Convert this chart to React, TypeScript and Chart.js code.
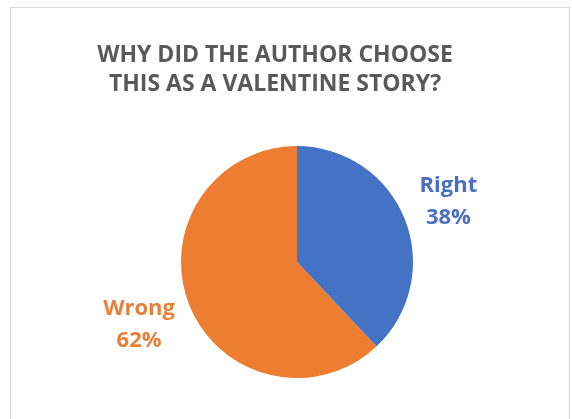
import React, { useEffect, useRef } from "react";
import { Chart, registerables } from "chart.js";

Chart.register(...registerables);

const categories = ["Right", "Wrong"];
const values = [38, 62];
const sliceColors = ["#4472C4", "#ED7D31"];
const labelColors = ["#4A6FBE", "#E9803A"];
const titleLines = ["WHY DID THE AUTHOR CHOOSE", "THIS AS A VALENTINE STORY?"];

const FONT = "'Open Sans', 'Noto Sans', sans-serif";

const titlePlugin = {
  id: "customTitle",
  afterDraw(chart: any) {
    const ctx = chart.ctx;
    ctx.save();
    ctx.fillStyle = "#595959";
    ctx.font = `bold 23px ${FONT}`;
    ctx.textAlign = "center";
    ctx.textBaseline = "alphabetic";
    const cx = 275;
    titleLines.forEach((line, i) => {
      ctx.fillText(line, cx, 62 + i * 28.5);
    });
    ctx.restore();
  },
};

const labelPlugin = {
  id: "outsideLabels",
  afterDatasetsDraw(chart: any) {
    const ctx = chart.ctx;
    const meta = chart.getDatasetMeta(0);
    const total = values.reduce((a, b) => a + b, 0);
    ctx.save();
    ctx.font = `bold 22px ${FONT}`;
    ctx.textAlign = "center";
    ctx.textBaseline = "middle";
    meta.data.forEach((arc: any, i: number) => {
      const { x, y, startAngle, endAngle, outerRadius } = arc.getProps(
        ["x", "y", "startAngle", "endAngle", "outerRadius"],
        true
      );
      const mid = (startAngle + endAngle) / 2;
      const l1 = categories[i];
      const l2 = Math.round((values[i] / total) * 100) + "%";
      const half = Math.max(ctx.measureText(l1).width, ctx.measureText(l2).width) / 2;
      const d = outerRadius + 18 + half;
      const lx = x + Math.cos(mid) * d;
      const ly = y + Math.sin(mid) * d;
      ctx.fillStyle = labelColors[i];
      ctx.fillText(l1, lx, ly - 16);
      ctx.fillText(l2, lx, ly + 16);
    });
    ctx.restore();
  },
};

export default function App() {
  const ref = useRef<HTMLCanvasElement | null>(null);
  useEffect(() => {
    if (!ref.current) return;
    const chart = new Chart(ref.current, {
      type: "pie",
      data: {
        labels: categories,
        datasets: [
          {
            data: values,
            backgroundColor: sliceColors,
            borderWidth: 0,
          },
        ],
      },
      options: {
        animation: false,
        responsive: false,
        maintainAspectRatio: false,
        layout: { padding: { top: 146, bottom: 41, left: 181, right: 159 } },
        plugins: {
          legend: { display: false },
          tooltip: { enabled: false },
          title: { display: false },
        },
      },
      plugins: [labelPlugin, titlePlugin],
    });
    return () => chart.destroy();
  }, []);
  return (
    <div
      style={{
        position: "fixed",
        left: 0,
        top: 0,
        width: 572,
        height: 419,
        background: "#ffffff",
        overflow: "hidden",
      }}
    >
      <div
        style={{
          position: "absolute",
          left: 10,
          top: 7,
          width: 560,
          height: 440,
          border: "1px solid #d9d9d9",
          boxSizing: "border-box",
        }}
      />
      <canvas
        ref={ref}
        width={572}
        height={419}
        style={{ position: "absolute", left: 0, top: 0, width: 572, height: 419 }}
      />
    </div>
  );
}
